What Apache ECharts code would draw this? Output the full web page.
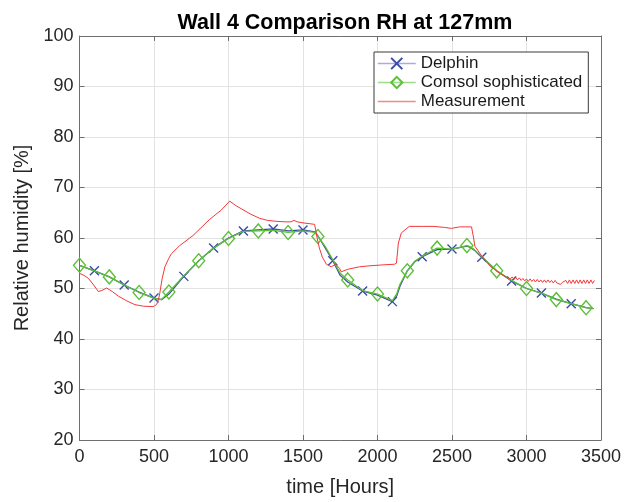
<!DOCTYPE html>
<html>
<head>
<meta charset="utf-8">
<script src="https://cdn.jsdelivr.net/npm/echarts@6/dist/echarts.min.js"></script>
<style>
html,body{margin:0;padding:0;background:#fff;}
#chart{width:633px;height:502px;}
</style>
</head>
<body>
<div id="chart"></div>
<script>
// ---- data ----
const titleText = 'Wall 4 Comparison RH at 127mm';
const seriesNames = ['Delphin', 'Comsol sophisticated', 'Measurement'];
const xTicks = [0, 500, 1000, 1500, 2000, 2500, 3000, 3500];
const yTicks = [20, 30, 40, 50, 60, 70, 80, 90, 100];

// simulation time grid (hours)
const simHours = [0,100,200,300,400,500,550,600,700,800,900,1000,1100,1200,1300,1400,1500,1580,1600,1650,1700,1750,1800,1900,2000,2100,2130,2150,2200,2250,2300,2400,2500,2600,2620,2650,2700,2800,2900,3000,3100,3200,3300,3400,3450];
const delphinRH = [54.6,53.5,52.3,50.7,49.3,48.1,47.8,48.9,52.4,55.5,58.0,60.0,61.4,61.6,61.8,61.4,61.6,61.2,60.4,58.0,55.5,52.6,51.3,49.5,48.7,47.4,48.6,50.4,53.5,55.3,56.3,57.7,57.8,58.4,58.2,57.6,56.2,53.5,51.5,50.0,49.1,47.9,47.0,46.2,46.0];
const comsolRH  = [54.6,53.5,52.3,50.7,49.2,48.1,47.8,49.3,52.5,55.5,58.0,59.9,61.3,61.4,61.5,61.1,61.4,61.1,60.3,58.3,55.7,53.0,51.7,49.6,48.9,47.6,49.0,50.8,53.5,55.4,56.4,58.0,57.8,58.5,58.3,57.7,56.3,53.5,51.6,50.0,49.1,47.8,47.0,46.2,46.0];

const measHours = [0,30,60,100,126,150,182,220,260,320,372,430,494,517,530,539,555,573,600,617,673,762,874,950,1008,1050,1097,1150,1209,1260,1321,1380,1420,1440,1460,1500,1578,1589,1595,1610,1630,1657,1689,1720,1733,1745,1756,1800,1879,1950,2050,2113,2127,2140,2160,2213,2300,2373,2450,2496,2550,2631,2645,2653,2698,2740,
  2760,2772,2784,2796,2808,2820,2832,2844,2856,2868,2880,2892,2904,2916,2928,2940,2952,2964,2976,2988,3000,3012,3024,3036,3048,3060,3072,3084,3096,3108,3120,3132,3144,3156,3168,3180,3192,3204,3216,3228,3240,3252,3264,3276,3288,3300,3312,3324,3336,3348,3360,3372,3384,3396,3408,3420,3432,3444,3456];
const measRH = [53.0,52.6,52.0,50.5,49.4,49.6,50.1,49.4,48.5,47.5,46.8,46.5,46.4,46.8,47.8,49.1,52.0,54.3,56.0,56.9,58.5,60.5,63.7,65.5,67.3,66.4,65.6,64.7,63.9,63.5,63.3,63.2,63.2,63.5,63.2,63.0,62.7,62.5,60.0,58.0,56.2,54.8,54.3,54.8,55.0,54.0,53.3,53.8,54.3,54.5,54.7,54.8,55.0,59.0,61.0,62.3,62.3,62.3,62.1,61.9,62.2,62.2,60.0,58.4,56.5,55.0,
  54.3,54.0,53.9,53.5,53.5,53.0,53.1,52.6,52.8,52.2,52.5,51.9,52.3,51.8,52.2,51.7,52.1,51.6,52.0,51.5,51.9,51.4,51.9,51.4,51.8,51.3,51.8,51.3,51.7,51.2,51.7,51.2,51.7,51.2,51.6,51.1,51.6,51.1,50.9,50.8,51.2,51.0,51.6,51.0,51.7,51.0,51.7,51.0,51.7,51.0,51.7,51.0,51.7,51.0,51.7,51.0,51.7,51.0,51.6];

// ---- build chart ----
const delphinMarkerStep = 200, delphinMarkerOffset = 100;
const comsolMarkerStep = 200, comsolMarkerOffset = 0;

function simData(vals, step, offset) {
  return simHours.map((h, i) => {
    const item = { value: [h, vals[i]] };
    if (h % 100 !== 0 || h % step !== offset || h > 3400) item.symbol = 'none';
    return item;
  });
}

const blue = '#3a4ba6';
const green = '#5cbf38';
const red = '#f2383a';
const xPath = 'path://M0,0L10,10M10,0L0,10';

const chart = echarts.init(document.getElementById('chart'), null, { renderer: 'canvas' });

const axisLineColor = '#6e6e6e';
const labelColor = '#262626';

chart.setOption({
  animation: false,
  backgroundColor: '#ffffff',
  title: {
    text: titleText,
    left: 340, top: 7, textAlign: 'center',
    textStyle: { fontFamily: 'Liberation Sans', fontSize: 21.5, fontWeight: 'bold', color: '#000' }
  },
  grid: { left: 79.5, right: 32, top: 36, bottom: 55, containLabel: false },
  legend: {
    orient: 'vertical',
    left: 374, top: 52,
    padding: [3, 6, 3, 3],
    itemGap: 2,
    itemWidth: 38, itemHeight: 14,
    backgroundColor: '#fff',
    borderColor: '#3a3a3a', borderWidth: 1,
    textStyle: { fontFamily: 'Liberation Sans', fontSize: 17, color: '#1a1a1a' },
    data: [
      { name: seriesNames[0], lineStyle: { color: '#aaaae6', width: 1.5 } },
      { name: seriesNames[1], lineStyle: { color: '#9edc8c', width: 1.5 } },
      { name: seriesNames[2], lineStyle: { color: '#f08a8a', width: 1.5 }, itemStyle: { opacity: 0 } }
    ]
  },
  xAxis: [{
    type: 'value', min: xTicks[0], max: xTicks[xTicks.length - 1], interval: 500,
    position: 'bottom',
    name: 'time [Hours]', nameLocation: 'middle', nameGap: 37,
    nameTextStyle: { fontFamily: 'Liberation Sans', fontSize: 20, color: labelColor },
    axisLine: { show: true, onZero: false, lineStyle: { color: axisLineColor, width: 1 } },
    axisTick: { show: true, inside: true, length: 5, lineStyle: { color: axisLineColor } },
    axisLabel: { fontFamily: 'Liberation Sans', fontSize: 18, color: labelColor, margin: 8, formatter: v => String(v) },
    splitLine: { show: true, lineStyle: { color: '#e3e3e3', width: 1 } }
  }, {
    type: 'value', min: xTicks[0], max: xTicks[xTicks.length - 1], interval: 500,
    position: 'top',
    axisLine: { show: true, onZero: false, lineStyle: { color: axisLineColor, width: 1 } },
    axisTick: { show: true, inside: true, length: 5, lineStyle: { color: axisLineColor } },
    axisLabel: { show: false },
    splitLine: { show: false }
  }],
  yAxis: [{
    type: 'value', min: yTicks[0], max: yTicks[yTicks.length - 1], interval: 10,
    position: 'left',
    name: 'Relative humidity [%]', nameLocation: 'middle', nameGap: 46,
    nameTextStyle: { fontFamily: 'Liberation Sans', fontSize: 20, color: labelColor },
    axisLine: { show: true, onZero: false, lineStyle: { color: axisLineColor, width: 1 } },
    axisTick: { show: true, inside: true, length: 5, lineStyle: { color: axisLineColor } },
    axisLabel: { fontFamily: 'Liberation Sans', fontSize: 18, color: labelColor, margin: 6 },
    splitLine: { show: true, lineStyle: { color: '#e3e3e3', width: 1 } }
  }, {
    type: 'value', min: yTicks[0], max: yTicks[yTicks.length - 1], interval: 10,
    position: 'right',
    axisLine: { show: true, onZero: false, lineStyle: { color: axisLineColor, width: 1 } },
    axisTick: { show: true, inside: true, length: 5, lineStyle: { color: axisLineColor } },
    axisLabel: { show: false },
    splitLine: { show: false }
  }],
  series: [{
    name: seriesNames[0], type: 'line',
    data: simData(delphinRH, delphinMarkerStep, delphinMarkerOffset),
    symbol: xPath, symbolSize: 9, showAllSymbol: true,
    itemStyle: { color: 'rgba(0,0,0,0)', borderColor: blue, borderWidth: 1.4 },
    lineStyle: { color: blue, width: 1.3 },
    z: 2
  }, {
    name: seriesNames[1], type: 'line',
    data: simData(comsolRH, comsolMarkerStep, comsolMarkerOffset),
    symbol: 'diamond', symbolSize: [12, 14], showAllSymbol: true,
    itemStyle: { color: 'rgba(255,255,255,0)', borderColor: green, borderWidth: 1.4 },
    lineStyle: { color: green, width: 1.3 },
    z: 3
  }, {
    name: seriesNames[2], type: 'line',
    data: measHours.map((h, i) => [h, measRH[i]]),
    symbol: 'none',
    itemStyle: { color: red },
    lineStyle: { color: red, width: 1 },
    z: 4
  }]
});
</script>
</body>
</html>
